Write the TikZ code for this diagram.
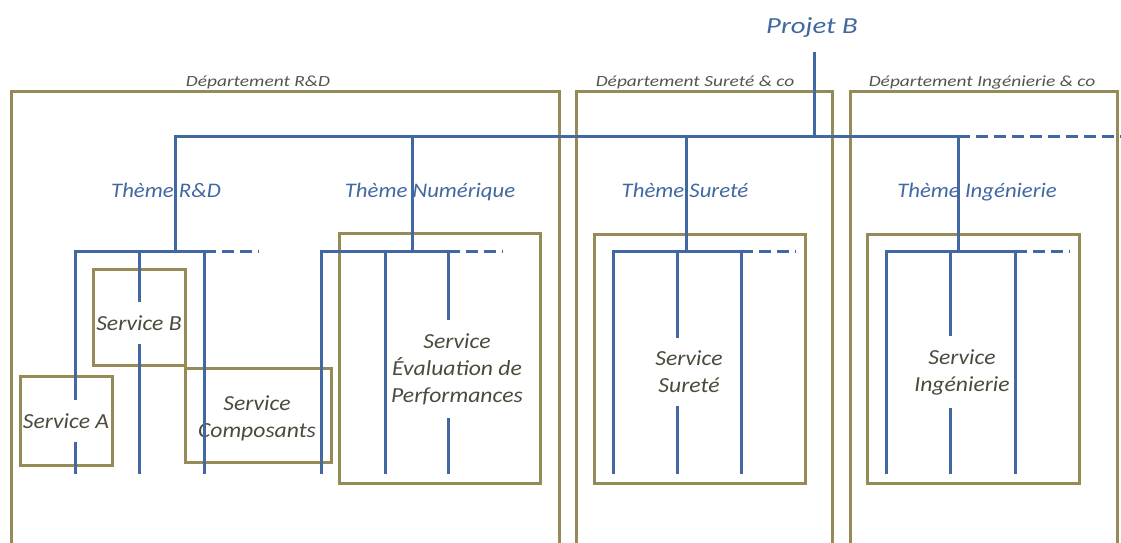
\documentclass[tikz,border=0pt]{standalone}
\usepackage{fontspec}
\setmainfont{Carlito}
\newfontfamily\stA{Carlito}[FakeStretch=1.1]
\newfontfamily\stB{Carlito}[FakeStretch=1.25]
\definecolor{lineblue}{RGB}{65,104,160}
\definecolor{boxolive}{RGB}{150,138,86}
\definecolor{deptgray}{RGB}{85,85,75}
\definecolor{svcgray}{RGB}{75,75,60}
\begin{document}
\begin{tikzpicture}[x=1pt,y=-1pt,
  bl/.style={draw=lineblue, line width=3pt},
  ol/.style={draw=boxolive, line width=3pt},
  dsh/.style={draw=lineblue, line width=3pt, dash pattern=on 12pt off 6pt},
  deptlbl/.style={text=deptgray, font=\stB\itshape\fontsize{15.5}{18}\selectfont, inner sep=0pt, anchor=base},
  themelbl/.style={text=lineblue, font=\stA\itshape\fontsize{20.7}{24}\selectfont, inner sep=0pt, anchor=base},
  projlbl/.style={text=lineblue, font=\stB\itshape\fontsize{23}{28}\selectfont, inner sep=0pt, anchor=base},
  svclbl/.style={text=svcgray, font=\stA\itshape\fontsize{21.5}{27}\selectfont, align=center, inner xsep=2pt, inner ysep=13pt},
]
\useasboundingbox (0,0) rectangle (1121,542);

% department boxes
\draw[ol] (11,600) -- (11,91) -- (559,91) -- (559,600);
\draw[ol] (576,600) -- (576,91) -- (832,91) -- (832,600);
\draw[ol] (850,600) -- (850,91) -- (1117,91) -- (1117,600);
\node[deptlbl] (dRD) at (258,86) {Département R\&D};
\node[deptlbl] (dSU) at (695,86) {Département Sureté \& co};
\node[deptlbl] (dIN) at (982,86) {Département Ingénierie \& co};

% service boxes
\draw[ol] (93,269) rectangle (185,365);
\draw[ol] (20,376) rectangle (112,465);
\draw[ol] (185,368) rectangle (331,462);
\draw[ol] (339,233) rectangle (540,483);
\draw[ol] (594,234) rectangle (805,483);
\draw[ol] (867,234) rectangle (1079,483);

% labels
\node[projlbl] (proj) at (812,33) {Projet B};
\node[themelbl] (tRD) at (166,197) {Thème R\&D};
\node[themelbl] (tNU) at (430,197) {Thème Numérique};
\node[themelbl] (tSU) at (685,197) {Thème Sureté};
\node[themelbl] (tIN) at (977,197) {Thème Ingénierie};

\node[svclbl] (sB) at (139,323) {Service B};
\node[svclbl] (sA) at (66,421) {Service A};
\node[svclbl] (sC) at (257,418) {Service\\Composants};
\node[svclbl] (sE) at (457,369) {Service\\Évaluation de\\Performances};
\node[svclbl] (sS) at (689,372) {Service\\Sureté};
\node[svclbl] (sI) at (962,372) {Service\\Ingénierie};

% coordinates
\coordinate (pb) at (814,52);
\coordinate (top) at (814,136);
\coordinate (r1) at (75,251);
\coordinate (r2) at (139,251);
\coordinate (r3) at (204,251);
\coordinate (n1) at (321,251);
\coordinate (n2) at (385,251);
\coordinate (n3) at (448,251);
\coordinate (s1) at (613,251);
\coordinate (s2) at (677,251);
\coordinate (s3) at (741,251);
\coordinate (i1) at (886,251);
\coordinate (i2) at (950,251);
\coordinate (i3) at (1015,251);

% top level
\draw[bl] (pb) -- (top);
\draw[bl] (175,251) -- (175,136) -- (958,136) -- (958,251);
\draw[bl] (412,136) -- (412,251);
\draw[bl] (686,136) -- (686,251);
\draw[dsh] (958,136) -- (1121,136);

% R&D
\draw[bl] (r1 |- sA.north) -- (r1) -- (r3) -- (204,474);
\draw[bl] (sA.south -| r1) -- (75,474);
\draw[bl] (r2) -- (r2 |- sB.north);
\draw[bl] (sB.south -| r2) -- (139,474);
\draw[dsh] (r3) -- (259,251);

% Numerique
\draw[bl] (321,474) -- (n1) -- (n3) -- (n3 |- sE.north);
\draw[bl] (sE.south -| n3) -- (448,474);
\draw[bl] (n2) -- (385,474);
\draw[dsh] (n3) -- (503,251);

% Surete
\draw[bl] (613,474) -- (s1) -- (s3) -- (741,474);
\draw[bl] (s2) -- (s2 |- sS.north);
\draw[bl] (sS.south -| s2) -- (677,474);
\draw[dsh] (s3) -- (796,251);

% Ingenierie
\draw[bl] (886,474) -- (i1) -- (i3) -- (1015,474);
\draw[bl] (i2) -- (i2 |- sI.north);
\draw[bl] (sI.south -| i2) -- (950,474);
\draw[dsh] (i3) -- (1070,251);
\end{tikzpicture}
\end{document}
